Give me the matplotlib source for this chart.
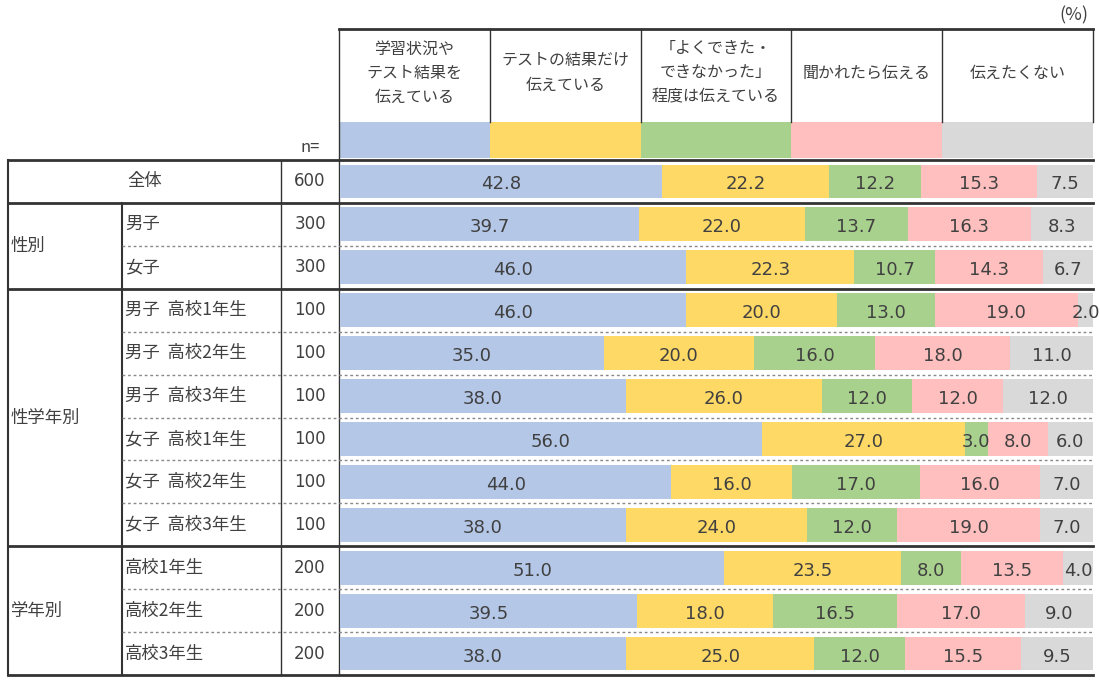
import matplotlib
matplotlib.use("Agg")
import matplotlib.pyplot as plt
from matplotlib.patches import Rectangle
import numpy as np

plt.rcParams['font.family'] = ['Noto Sans CJK JP', 'DejaVu Sans']

# --- data ---
categories = ["学習状況や\nテスト結果を\n伝えている", "テストの結果だけ\n伝えている",
              "「よくできた・\nできなかった」\n程度は伝えている", "聞かれたら伝える", "伝えたくない"]
colors = ["#B4C7E7", "#FFD966", "#A9D18E", "#FFBFBF", "#D9D9D9"]

row_labels = ["全体", "男子", "女子",
              "男子  高校1年生", "男子  高校2年生", "男子  高校3年生",
              "女子  高校1年生", "女子  高校2年生", "女子  高校3年生",
              "高校1年生", "高校2年生", "高校3年生"]
n_values = [600, 300, 300, 100, 100, 100, 100, 100, 100, 200, 200, 200]
groups = [("性別", 1, 3), ("性学年別", 3, 9), ("学年別", 9, 12)]

s1 = [42.8, 39.7, 46.0, 46.0, 35.0, 38.0, 56.0, 44.0, 38.0, 51.0, 39.5, 38.0]
s2 = [22.2, 22.0, 22.3, 20.0, 20.0, 26.0, 27.0, 16.0, 24.0, 23.5, 18.0, 25.0]
s3 = [12.2, 13.7, 10.7, 13.0, 16.0, 12.0, 3.0, 17.0, 12.0, 8.0, 16.5, 12.0]
s4 = [15.3, 16.3, 14.3, 19.0, 18.0, 12.0, 8.0, 16.0, 19.0, 13.5, 17.0, 15.5]
s5 = [7.5, 8.3, 6.7, 2.0, 11.0, 12.0, 6.0, 7.0, 7.0, 4.0, 9.0, 9.5]
series = [s1, s2, s3, s4, s5]

# --- layout (pixels) ---
W, H = 1100, 682
x_left, x_grp, x_n, x_bar, x_right = 8, 122, 281, 339, 1093
y_head, y_sw, y_top, y_bot = 29, 122, 160, 675
nrows = len(row_labels)
rh = (y_bot - y_top) / nrows
txt = "#404040"
line = "#333333"
num_font = ['DejaVu Sans']

fig = plt.figure(figsize=(W / 100, H / 100), dpi=100)
ov = fig.add_axes([0, 0, 1, 1])
ov.set_xlim(0, W)
ov.set_ylim(H, 0)
ov.axis("off")

ax = fig.add_axes([(x_bar + 1) / W, (H - y_bot) / H, (x_right - x_bar - 1) / W, (y_bot - y_top) / H])
ax.set_xlim(0, 100)
ax.set_ylim(nrows, 0)
ax.axis("off")

ypos = np.arange(nrows) + 0.5
left = np.zeros(nrows)
for vals, c in zip(series, colors):
    vals = np.array(vals)
    ax.barh(ypos, vals, left=left, height=0.79, color=c, linewidth=0)
    for y, l, v in zip(ypos, left, vals):
        ax.text(l + v / 2, y + 0.07, f"{v:.1f}", ha="center", va="center", fontsize=13,
                color=txt, family=num_font)
    left += vals

# header
colw = (x_right - x_bar) / len(categories)
for i, (cat, c) in enumerate(zip(categories, colors)):
    x0 = x_bar + i * colw
    ov.add_patch(Rectangle((x0, y_sw), colw, 36, color=c, lw=0))
    ov.text(x0 + colw / 2, 73, cat, ha="center", va="center", fontsize=11.5,
            color=txt, linespacing=1.55)
    if i > 0:
        ov.plot([x0, x0], [y_head, y_sw], color=line, lw=1)
ov.plot([x_bar, x_right], [y_head, y_head], color=line, lw=2)
ov.plot([x_right, x_right], [y_head, y_sw], color=line, lw=1)
ov.text(1088, 15, "(%)", ha="right", va="center", fontsize=13, color=txt)
ov.text(310, 148, "n=", ha="center", va="center", fontsize=12, color=txt)

# table grid
ov.plot([x_left, x_right], [y_top, y_top], color=line, lw=2)
ov.plot([x_left, x_right], [y_bot, y_bot], color=line, lw=2)
ov.plot([x_left, x_left], [y_top, y_bot], color=line, lw=1.5)
ov.plot([x_grp, x_grp], [y_top + rh, y_bot], color=line, lw=1.5)
ov.plot([x_n, x_n], [y_top, y_bot], color=line, lw=1)
ov.plot([x_bar, x_bar], [y_head, y_bot], color=line, lw=1)

starts = [g[1] for g in groups]
for r in range(1, nrows):
    y = y_top + r * rh
    if r in starts:
        ov.plot([x_left, x_right], [y, y], color=line, lw=2)
    else:
        ov.plot([x_grp, x_right], [y, y], color="#888888", lw=1, ls=(0, (2, 2)))

# row texts
for r, (lab, n) in enumerate(zip(row_labels, n_values)):
    yc = y_top + (r + 0.5) * rh
    if r == 0:
        ov.text((x_left + x_n) / 2, yc, lab, ha="center", va="center", fontsize=12.5, color=txt)
    else:
        ov.text(x_grp + 3, yc, lab, ha="left", va="center", fontsize=12.5, color=txt)
    ov.text(310, yc, str(n), ha="center", va="center", fontsize=12, color=txt, family=num_font)

for name, a, b in groups:
    yc = y_top + (a + b) / 2 * rh
    ov.text(x_left + 3, yc, name, ha="left", va="center", fontsize=12.5, color=txt)

fig.savefig("out.png", dpi=100)
